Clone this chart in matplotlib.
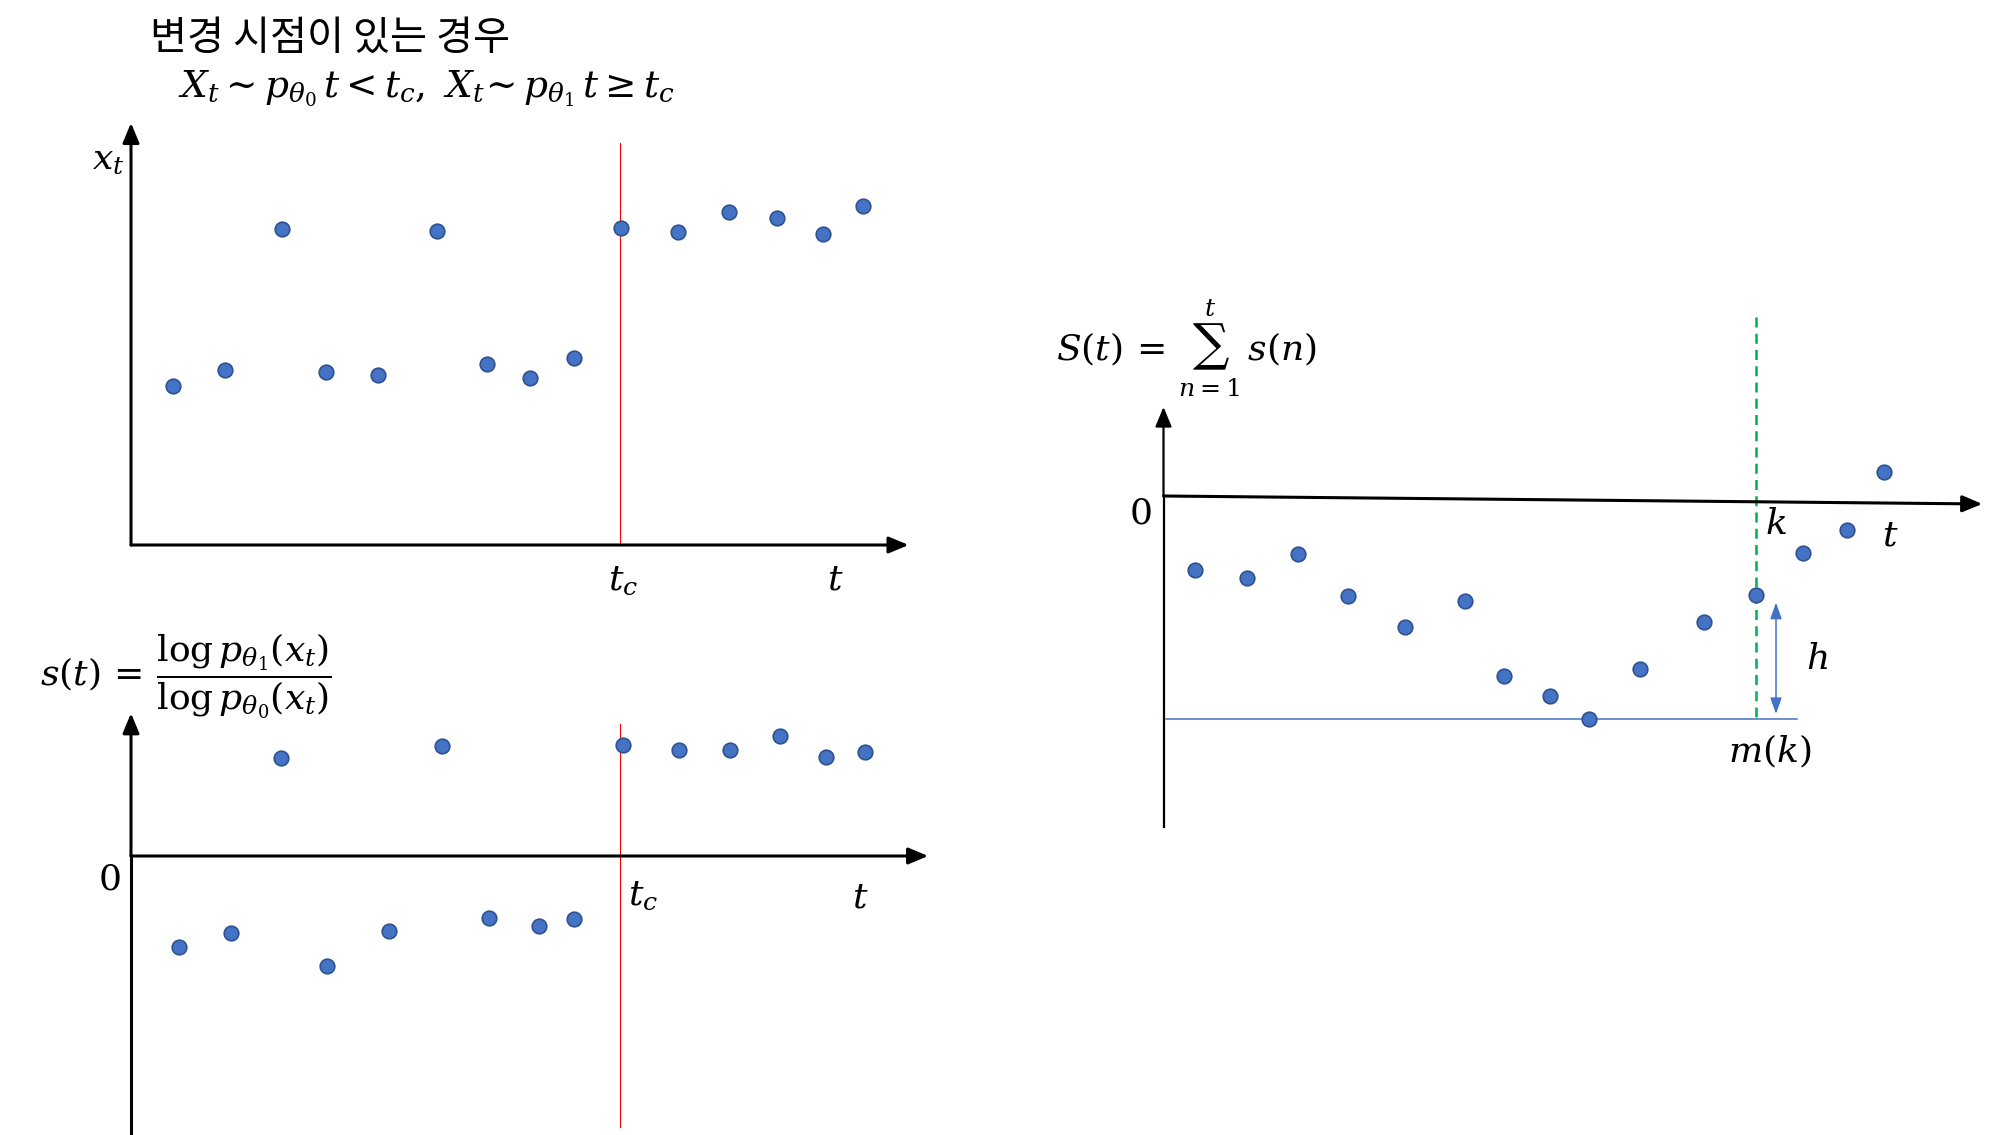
import matplotlib
matplotlib.use('Agg')
import matplotlib.pyplot as plt

# ---------------- data ----------------
# panel 1: observations x_t
t_x = [0.86, 1.92, 3.09, 3.98, 5.04, 6.25, 7.27, 8.14, 9.05, 9.99, 11.16, 12.20, 13.18, 14.13, 14.93]
x_vals = [3.79, 4.16, 7.53, 4.13, 4.04, 7.47, 4.30, 3.98, 4.45, 7.55, 7.45, 7.92, 7.78, 7.41, 8.07]
# panel 2: score s(t)
t_s = [0.97, 2.05, 3.07, 3.99, 5.27, 6.34, 7.30, 8.32, 9.04, 10.04, 11.19, 12.22, 13.24, 14.18, 14.97]
s_vals = [-2.16, -1.83, 2.34, -2.61, -1.79, 2.63, -1.48, -1.67, -1.49, 2.64, 2.53, 2.53, 2.86, 2.35, 2.47]
# panel 3: cumulative sum S(t)
t_S = [0.65, 1.71, 2.75, 3.76, 4.93, 6.16, 6.95, 7.89, 8.69, 9.72, 11.03, 12.10, 13.05, 13.94, 14.70]
S_vals = [-1.77, -1.95, -1.37, -2.39, -3.11, -2.49, -4.28, -4.76, -5.31, -4.11, -3.00, -2.35, -1.36, -0.80, 0.58]
t_change = 9.97
k_idx = 11

title_text = "변경 시점이 있는 경우"

# ---------------- styling ----------------
W, H = 1996, 1135
plt.rcParams['mathtext.fontset'] = 'dejavuserif'
plt.rcParams['font.family'] = ['Noto Sans CJK KR', 'DejaVu Sans']
DOT_FACE = '#4472C4'
DOT_EDGE = '#2F528F'
UX, UY = 49.0, 42.0
MS = 26  # math font size

fig = plt.figure(figsize=(W / 100, H / 100), dpi=100)


def panel(x0, y0, xlim, ylim):
    left = (x0 + xlim[0] * UX) / W
    width = (xlim[1] - xlim[0]) * UX / W
    bottom = 1 - (y0 - ylim[0] * UY) / H
    height = (ylim[1] - ylim[0]) * UY / H
    ax = fig.add_axes([left, bottom, width, height])
    ax.set_xlim(xlim)
    ax.set_ylim(ylim)
    ax.axis('off')
    return ax


def arrow(ax, start, end, lw=2.2):
    ax.annotate('', xy=end, xytext=start, annotation_clip=False,
                arrowprops=dict(arrowstyle='-|>,head_length=0.6,head_width=0.25',
                                mutation_scale=20, lw=lw, color='black',
                                shrinkA=0, shrinkB=0))


def dots(ax, t, v):
    ax.plot(t, v, 'o', ms=10.5, mfc=DOT_FACE, mec=DOT_EDGE, mew=1.2,
            clip_on=False, zorder=5)


def ftext(x, y, s, size=MS, ha='center', va='center', **kw):
    fig.text(x / W, 1 - y / H, s, fontsize=size, ha=ha, va=va, **kw)


# ---------------- panel 1 ----------------
ax1 = panel(131, 545, (-0.5, 16.5), (-1.0, 10.5))
ax1.plot([t_change, t_change], [0, 9.58], color='#FF0000', lw=0.8, zorder=2)
arrow(ax1, (0, 0), (0, 10.05))
arrow(ax1, (0, 0), (15.87, 0))
dots(ax1, t_x, x_vals)

# ---------------- panel 2 ----------------
ax2 = panel(131, 856, (-0.5, 16.5), (-6.8, 3.6))
ax2.plot([t_change, t_change], [-6.45, 3.14], color='#FF0000', lw=0.8, zorder=2)
ax2.plot([0, 0], [-6.64, 0], color='black', lw=2.2)
arrow(ax2, (0, 0), (0, 3.40))
arrow(ax2, (0, 0), (16.27, 0))
dots(ax2, t_s, s_vals)

# ---------------- panel 3 ----------------
ax3 = panel(1163.5, 496, (-0.5, 17.0), (-8.0, 4.5))
k_t = t_S[k_idx]
m_k = min(S_vals)
ax3.plot([0, 0], [-7.88, 0], color='black', lw=1.6)
arrow(ax3, (0, 0), (0, 2.12), lw=1.6)
arrow(ax3, (0, 0), (16.71, -0.19), lw=2.2)
ax3.plot([k_t, k_t], [m_k + 0.06, 4.29], color='#00B050', lw=1.8,
         ls=(0, (4, 2.5)), zorder=2)
ax3.plot([0.06, 12.93], [m_k, m_k], color=DOT_FACE, lw=1.1, zorder=2)
ax3.annotate('', xy=(k_t + 0.4, S_vals[k_idx] - 0.19), xytext=(k_t + 0.4, m_k + 0.12),
             annotation_clip=False,
             arrowprops=dict(arrowstyle='<|-|>,head_length=0.7,head_width=0.25',
                             mutation_scale=14, lw=1.1, color=DOT_FACE,
                             shrinkA=0, shrinkB=0))
dots(ax3, t_S, S_vals)

# ---------------- texts ----------------
ftext(150, 38, title_text, size=29, ha='left')
ftext(178, 89, r'$X_t \sim p_{\theta_0}\, t < t_c,\ X_t\!\sim p_{\theta_1}\, t \geq t_c$',
      size=27, ha='left')

ftext(108, 159, r'$x_t$')
ftext(623, 580, r'$t_c$')
ftext(835, 580, r'$t$')

ftext(40, 676, r'$s(t)\,=\,\dfrac{\log p_{\theta_1}(x_t)}{\log p_{\theta_0}(x_t)}$',
      ha='left')
ftext(109, 880, r'$0$')
ftext(643, 895, r'$t_c$')
ftext(860, 897, r'$t$')

ftext(1056, 348, r'$S(t)\,=\,\sum_{n=1}^{t}\,s(n)$', ha='left')
ftext(1140, 513, r'$0$')
ftext(1776, 524, r'$k$')
ftext(1890, 536, r'$t$')
ftext(1817, 659, r'$h$')
ftext(1770, 752, r'$m(k)$')

fig.savefig('out.png', dpi=100, facecolor='white')
